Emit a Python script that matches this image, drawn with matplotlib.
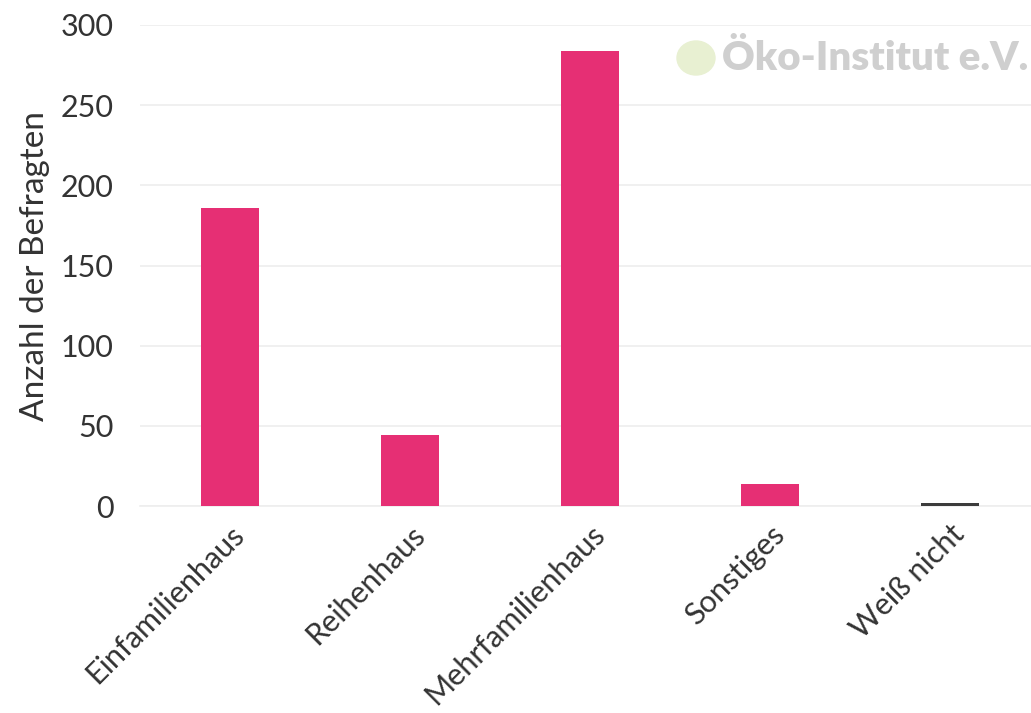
import matplotlib.pyplot as plt
from matplotlib.patches import Ellipse

# data
categories = ["Einfamilienhaus", "Reihenhaus", "Mehrfamilienhaus", "Sonstiges", "Weiß nicht"]
values = [186, 44, 284, 14, 2]
colors = ["#e62f74", "#e62f74", "#e62f74", "#e62f74", "#3c3c3c"]
yticks = [0, 50, 100, 150, 200, 250, 300]

plt.rcParams['font.family'] = ['Lato', 'DejaVu Sans']

fig = plt.figure(figsize=(10.31, 7.13), dpi=100)
ax = fig.add_axes([140 / 1031, 207 / 713, 900 / 1031, 481 / 713])

x = list(range(len(categories)))
ax.bar(x, values, width=0.32, color=colors, zorder=3)

ax.set_xlim(-0.5, 4.5)
ax.set_ylim(0, 300)
ax.set_yticks(yticks)
ax.set_yticklabels([str(v) for v in yticks], fontsize=22, color="#333333")
ax.set_xticks(x)
ax.set_xticklabels(categories, rotation=45, ha="right", rotation_mode="anchor",
                   fontsize=22, color="#333333")
ax.tick_params(axis="both", length=0)
ax.tick_params(axis="y", pad=19)
ax.tick_params(axis="x", pad=10)

ax.grid(axis="y", color="#eeeeee", linewidth=1.2, zorder=0)
for s in ["top", "right", "left"]:
    ax.spines[s].set_visible(False)
ax.spines["bottom"].set_color("#eeeeee")
ax.spines["bottom"].set_linewidth(1.2)

fig.text(35 / 1031, (713 - 266) / 713, "Anzahl der Befragten", rotation=90,
         fontsize=24, color="#333333", ha="center", va="center")

# logo
fig.text(722 / 1031, (713 - 58) / 713, "Öko-Institut e.V.", fontsize=29,
         fontweight="heavy", color="#cfcfcf", ha="left", va="center")
fig.patches.append(Ellipse((696 / 1031, (713 - 58) / 713), 38 / 1031, 34 / 713,
                           transform=fig.transFigure, color="#e8f0d2"))

plt.savefig("out.png", dpi=100)
